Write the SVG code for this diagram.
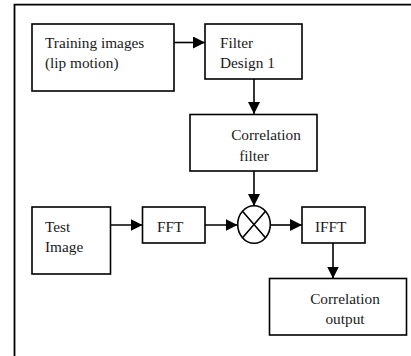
<svg xmlns="http://www.w3.org/2000/svg" width="411" height="356" viewBox="0 0 411 356">
<defs>
<marker id="ah" viewBox="0 0 12 12" refX="12" refY="6" markerWidth="12" markerHeight="12" markerUnits="userSpaceOnUse" orient="auto">
<path d="M0,0 L12,6 L0,12 Z" fill="#000"/>
</marker>
</defs>
<style>
.box{fill:#fff;stroke:#000;stroke-width:1.6}
.t{font-family:"Liberation Serif","Times New Roman",serif;font-size:15.3px;fill:#1a1a1a}
.c{stroke:#000;stroke-width:1.6;fill:none;marker-end:url(#ah)}
</style>
<rect width="411" height="356" fill="#fff"/>
<g id="frame">
<path d="M14.5,356 V4.6 H411" fill="none" stroke="#000" stroke-width="1.8"/>
</g>
<g id="connectors">
<line class="c" x1="174" y1="42.5" x2="205" y2="42.5"/>
<line class="c" x1="254" y1="79" x2="254" y2="114"/>
<line class="c" x1="254" y1="171" x2="254" y2="206"/>
<line class="c" x1="110.5" y1="225" x2="142.5" y2="225"/>
<line class="c" x1="205" y1="225" x2="237.5" y2="225"/>
<line class="c" x1="270" y1="225" x2="302" y2="225"/>
<line class="c" x1="333" y1="243" x2="333" y2="278.5"/>
</g>
<g id="training">
<rect class="box" x="32" y="24" width="142" height="67"/>
<text class="t" x="45" y="48">Training images</text>
<text class="t" x="45" y="68">(lip motion)</text>
</g>
<g id="filterdesign">
<rect class="box" x="205" y="24" width="97" height="55"/>
<text class="t" x="220" y="48">Filter</text>
<text class="t" x="220" y="68">Design 1</text>
</g>
<g id="corrfilter">
<rect class="box" x="190" y="114.5" width="127" height="56.5"/>
<text class="t" x="266" y="140" text-anchor="middle">Correlation</text>
<text class="t" x="254" y="161" text-anchor="middle">filter</text>
</g>
<g id="testimage">
<rect class="box" x="32" y="207" width="78.5" height="67"/>
<text class="t" x="45" y="231.5">Test</text>
<text class="t" x="45" y="251.5">Image</text>
</g>
<g id="fft">
<rect class="box" x="142.5" y="207" width="62.5" height="36"/>
<text class="t" x="157" y="231.5">FFT</text>
</g>
<g id="mult">
<ellipse class="box" cx="254" cy="224.5" rx="16.3" ry="18.7"/>
<path d="M242.5,211.3 L265.5,237.7 M265.5,211.3 L242.5,237.7" stroke="#000" stroke-width="1.6"/>
</g>
<g id="ifft">
<rect class="box" x="302" y="207" width="63" height="36"/>
<text class="t" x="315" y="231.5">IFFT</text>
</g>
<g id="corroutput">
<rect class="box" x="269.5" y="278.5" width="137" height="56.5"/>
<text class="t" x="345" y="303.5" text-anchor="middle">Correlation</text>
<text class="t" x="345" y="323.5" text-anchor="middle">output</text>
</g>
</svg>
